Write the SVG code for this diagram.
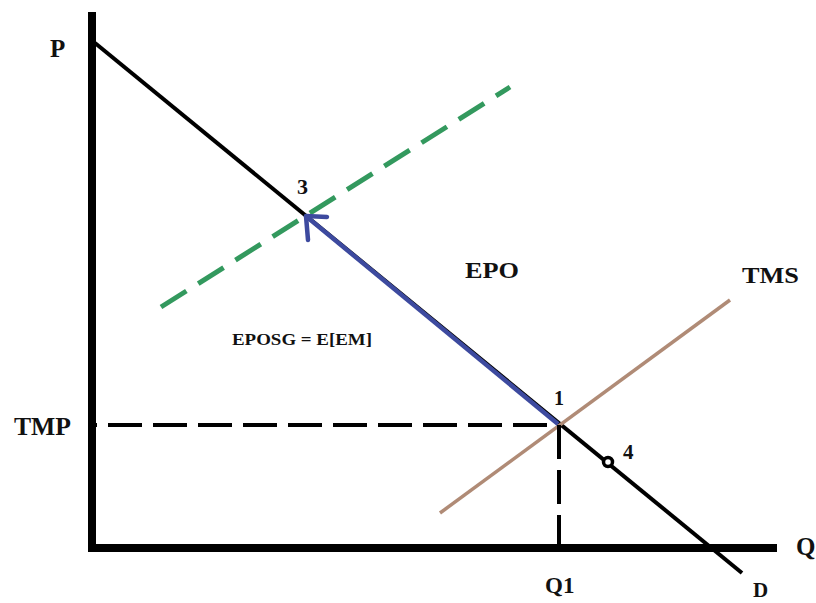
<svg xmlns="http://www.w3.org/2000/svg" width="816" height="603" viewBox="0 0 816 603">
<style>
  text { font-family: "Liberation Serif", "Times New Roman", serif; font-weight: bold; fill: #111; }
  .axis { stroke: #000; stroke-width: 8; fill: none; stroke-linecap: butt; }
  .demand { stroke: #000; stroke-width: 4; fill: none; }
  .guide { stroke: #000; stroke-width: 4; fill: none; stroke-dasharray: 34 11; }
  .green { stroke: #33995e; stroke-width: 5; fill: none; stroke-dasharray: 30 14; }
  .tms { stroke: #b08b76; stroke-width: 3.5; fill: none; }
  .blue { stroke: #3d4a9f; stroke-width: 4.5; fill: none; }
</style>
<rect width="816" height="603" fill="#fff"/>
<g id="axes">
  <line class="axis" x1="92" y1="12" x2="92" y2="552"/>
  <line class="axis" x1="88" y1="548" x2="777" y2="548"/>
  <text x="50" y="57" font-size="25">P</text>
  <text x="796" y="555" font-size="25">Q</text>
</g>
<g id="demand">
  <line class="demand" x1="95" y1="43" x2="742" y2="573"/>
  <text x="753" y="597" font-size="21">D</text>
</g>
<g id="tms">
  <line class="tms" x1="440" y1="513" x2="730" y2="300"/>
  <text x="742" y="283" font-size="24" textLength="57" lengthAdjust="spacingAndGlyphs">TMS</text>
</g>
<g id="green-line">
  <line class="green" x1="161" y1="307" x2="510" y2="87"/>
</g>
<g id="connectors">
  <line class="guide" x1="96" y1="425" x2="558" y2="425" stroke-dashoffset="-12"/>
  <line class="guide" x1="559" y1="425" x2="559" y2="545" stroke-dasharray="30 10"/>
  <line class="blue" x1="558" y1="424" x2="307" y2="217"/>
  <polyline class="blue" points="327,217 306,216 308,240" stroke-linecap="round" stroke-linejoin="round"/>
</g>
<g id="point-3"><text x="297" y="194" font-size="22">3</text></g>
<g id="point-1"><text x="554" y="405" font-size="20">1</text></g>
<g id="point-4">
  <circle cx="608" cy="462" r="4.5" fill="#fff" stroke="#000" stroke-width="3.5"/>
  <text x="623" y="459" font-size="21">4</text>
</g>
<g id="labels">
  <text x="465" y="278" font-size="23" textLength="54" lengthAdjust="spacingAndGlyphs">EPO</text>
  <text x="232" y="345" font-size="17" textLength="140" lengthAdjust="spacingAndGlyphs">EPOSG = E[EM]</text>
  <text x="14" y="435" font-size="25" textLength="57" lengthAdjust="spacingAndGlyphs">TMP</text>
  <text x="545" y="593" font-size="23">Q1</text>
</g>
</svg>
